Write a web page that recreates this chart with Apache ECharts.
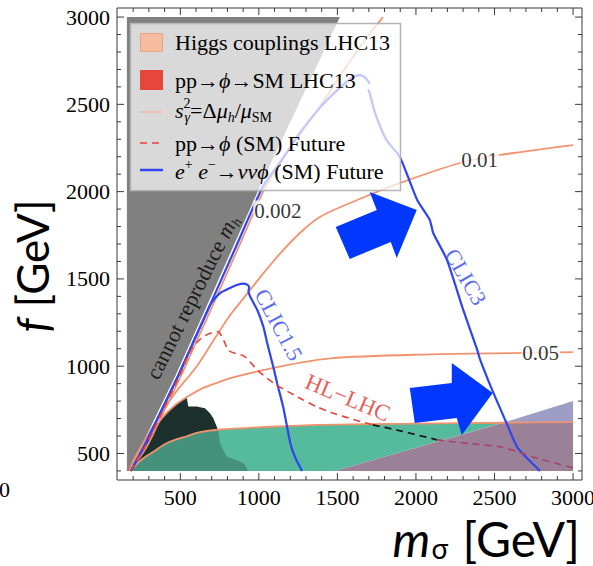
<!DOCTYPE html>
<html>
<head>
<meta charset="utf-8">
<title>f vs m_sigma</title>
<script src="https://cdn.jsdelivr.net/npm/echarts@6.0.0/dist/echarts.min.js"></script>
<style>
html, body { margin: 0; padding: 0; background: #fff; }
#chart { width: 593px; height: 566px; }
</style>
</head>
<body>
<div id="chart"></div>
<script>
// ---- tick values (GeV) ----
const majorTicks = [500, 1000, 1500, 2000, 2500, 3000];
const minorTicksX = [200, 300, 400, 600, 700, 800, 900, 1100, 1200, 1300, 1400, 1600, 1700, 1800, 1900,
                     2100, 2200, 2300, 2400, 2600, 2700, 2800, 2900];
const minorTicksY = [400, 600, 700, 800, 900, 1100, 1200, 1300, 1400, 1600, 1700, 1800, 1900,
                     2100, 2200, 2300, 2400, 2600, 2700, 2800, 2900];

// ---- shaded regions, points are [m_sigma, f] in GeV ----
const noHiggsMassRegion = [[160, 400], [160, 3000], [1516, 3000], [1026, 2067], [657, 1322], [466, 939], [231, 503], [175, 400]];
const couplingRegion = [[178, 400], [199, 418], [260, 470], [328, 510], [415, 560], [544, 600], [625, 622], [739, 636],
                        [1070, 653], [1388, 664], [2000, 671], [2552, 676], [1484, 400]];
const couplingCore = [[178, 400], [199, 418], [260, 470], [328, 510], [415, 560], [544, 600], [625, 622], [741, 631],
                      [752, 559], [794, 482], [857, 463], [910, 440], [931, 400]];
const resonanceRegion = [[178, 400], [199, 441], [262, 539], [370, 688], [460, 772], [540, 822], [551, 769], [604, 769],
                         [657, 759], [689, 731], [710, 702], [727, 664], [741, 631], [625, 622], [544, 600], [415, 560],
                         [328, 510], [260, 470], [199, 418]];
const wedgeLower = [[1484, 400], [2560, 678], [3000, 678], [3000, 400]];
const wedgeUpper = [[2560, 678], [3000, 801], [3000, 678]];

// ---- s_gamma^2 contours ----
const sGamma0002 = [[178, 400], [287, 540], [384, 720], [507, 950], [597, 1130], [692, 1320], [880, 1700], [1044, 2030],
                    [1150, 2180], [1250, 2330], [1388, 2487], [1530, 2680], [1675, 2869], [1790, 3000]];
const sGamma001 = [[178, 400], [199, 455], [270, 570], [351, 692], [470, 850], [605, 1000], [720, 1160], [815, 1290],
                   [879, 1363], [1000, 1500], [1130, 1640], [1261, 1763], [1388, 1855], [1626, 1952], [1900, 2050],
                   [2281, 2164], [2536, 2210], [3000, 2267]];
const sGamma005 = [[178, 400], [199, 441], [262, 539], [370, 688], [460, 772], [540, 822], [640, 873], [755, 912],
                   [818, 932], [1117, 995], [1454, 1045], [2090, 1068], [2682, 1076], [3000, 1081]];
const couplingEdge = [[178, 400], [199, 418], [260, 470], [328, 510], [415, 560], [544, 600], [625, 622], [739, 636],
                      [1070, 653], [1388, 664], [2000, 671], [2552, 676], [3000, 680]];

// ---- e+ e- -> nu nu phi reach ----
const clic15 = [[1275, 400], [1230, 480], [1200, 560], [1155, 766], [1117, 900], [1092, 995], [1053, 1133], [1029, 1225],
                [990, 1322], [946, 1396], [934, 1430], [938, 1452], [928, 1466], [900, 1473], [870, 1468], [820, 1450],
                [755, 1420], [700, 1365], [674, 1320], [579, 1130], [489, 950], [366, 720], [269, 540], [185, 400]];
const clic3Right = [[2790, 400], [2700, 480], [2644, 537], [2568, 692], [2485, 864], [2409, 1036], [2390, 1093],
                    [2301, 1322], [2198, 1608], [2110, 1763], [2088, 1838], [2008, 1952], [1897, 2200], [1812, 2296],
                    [1740, 2450], [1706, 2563], [1696, 2585]];
const clic3Left = [[1706, 2619], [1680, 2650], [1643, 2668], [1600, 2655], [1513, 2593], [1388, 2480], [1250, 2320],
                   [1140, 2175], [1026, 2030], [862, 1700], [674, 1320], [579, 1130], [489, 950], [366, 720],
                   [269, 540], [185, 400]];

// ---- pp -> phi (SM) reach, HL-LHC ----
const hlLhcOpen = [[182, 400], [278, 540], [375, 720], [498, 950], [540, 1040], [580, 1110], [640, 1165], [700, 1192],
                   [740, 1198], [775, 1150], [810, 1088], [910, 1055], [990, 978], [1092, 904], [1250, 822],
                   [1372, 766], [1474, 731], [1600, 695], [1725, 664]];
const hlLhcInBand = [[1725, 664], [1900, 630], [2133, 578]];
const hlLhcInWedge = [[2133, 578], [2350, 556], [2533, 538], [2650, 510], [2743, 480], [3000, 418]];

// ---- text annotations placed at [m_sigma, f] ----
const curveLabels = [
  { text: '0.002', at: [1121, 1889], rotate: 0, kind: 'num' },
  { text: '0.01', at: [2406, 2180], rotate: 0, kind: 'num' },
  { text: '0.05', at: [2794, 1075], rotate: 0, kind: 'num' },
  { text: 'CLIC1.5', at: [1127, 1237], rotate: -62, kind: 'clic' },
  { text: 'CLIC3', at: [2317, 1512], rotate: -60, kind: 'clic' },
  { text: 'HL\u2212LHC', at: [1566, 819], rotate: -22.6, kind: 'hl' },
  { text: '{r|cannot reproduce }{i|m}{sbi|h}', at: [574, 1397], rotate: 63.5, kind: 'mh' }
];
// tips of the two direction arrows, [m_sigma, f]
const arrowTips = [[2005, 1895], [2489, 847]];

const X_MIN = 97, X_MAX = 3057, Y_MIN = 348, Y_MAX = 3052;
const SERIF = '"Liberation Serif", "Times New Roman", "DejaVu Serif", serif';
const SANS = 'Lato, "Open Sans", "DejaVu Sans", sans-serif';

const COLORS = {
  gray: '#808080', teal: '#56ba9c', tealDark: '#44927b', deep: '#1c312d',
  mauve: '#9b8198', lavender: '#9e9dc6',
  salmon: '#f1936f', blue: '#2f45ef', red: '#e8413c', arrow: '#0038ff', frame: '#3a3a3a'
};

// rich-text styles: r upright, i italic, sb/sbi subscript, sp superscript, sp0 zero-advance superscript
function richSet(size, family, color) {
  const small = Math.round(size * 0.64);
  const base = { fontFamily: family, fontSize: size, lineHeight: size + 4, verticalAlign: 'middle' };
  const shift = Math.round(size * 0.64);
  const s = {
    r: Object.assign({}, base),
    i: Object.assign({}, base, { fontStyle: 'italic' }),
    sb: { fontFamily: family, fontSize: small, lineHeight: small, verticalAlign: 'middle', padding: [shift, 0, 0, 0] },
    sbi: { fontFamily: family, fontSize: small, lineHeight: small, verticalAlign: 'middle', padding: [shift, 0, 0, 0], fontStyle: 'italic' },
    sp: { fontFamily: family, fontSize: small, lineHeight: small, verticalAlign: 'middle', padding: [0, 0, shift, 0] },
    sp0: { fontFamily: family, fontSize: small, lineHeight: small, verticalAlign: 'middle', padding: [0, 0, shift, 0], width: 1 }
  };
  if (color) Object.keys(s).forEach(k => { s[k].color = color; s[k].fill = color; });
  return s;
}

function region(name, pts, color, z) {
  return {
    type: 'custom', name: name, z: z, silent: true, animation: false,
    data: pts, encode: { x: 0, y: 1 },
    renderItem: function (params, api) {
      if (params.dataIndex !== 0) return null;
      return { type: 'polygon', shape: { points: pts.map(p => api.coord(p)) }, style: { fill: color } };
    }
  };
}

function curve(name, pts, color, width, type, z, smooth) {
  return {
    type: 'line', name: name, data: pts, symbol: 'none', showSymbol: false, silent: true,
    animation: false, z: z, smooth: smooth == null ? 0.3 : smooth,
    lineStyle: { color: color, width: width, type: type || 'solid' }
  };
}

function labelSeries() {
  const styleOf = {
    num: { fontFamily: SERIF, fontSize: 21, color: '#000', backgroundColor: '#fff', padding: [0, 1] },
    clic: { fontFamily: SERIF, fontSize: 22, color: COLORS.blue },
    hl: { fontFamily: SERIF, fontSize: 23, color: '#e2322c' },
    mh: { fontFamily: SERIF, fontSize: 22, color: '#000', rich: richSet(22, SERIF, '#000') }
  };
  return {
    type: 'scatter', silent: true, animation: false, z: 6,
    symbolSize: 1, itemStyle: { color: 'rgba(0,0,0,0)' },
    data: curveLabels.map(l => ({
      value: l.at,
      label: Object.assign({ show: true, position: 'inside', formatter: l.text, rotate: l.rotate }, styleOf[l.kind])
    }))
  };
}

// frame ticks on all four sides, placed through the axis scales
const tickRows = []
  .concat(majorTicks.map(v => [v, Y_MIN, 7, 0]), minorTicksX.map(v => [v, Y_MIN, 4, 0]))
  .concat(majorTicks.map(v => [v, Y_MAX, 7, 1]), minorTicksX.map(v => [v, Y_MAX, 4, 1]))
  .concat(majorTicks.map(v => [X_MIN, v, 7, 2]), minorTicksY.map(v => [X_MIN, v, 4, 2]))
  .concat(majorTicks.map(v => [X_MAX, v, 7, 3]), minorTicksY.map(v => [X_MAX, v, 4, 3]));

const tickSeries = {
  type: 'custom', silent: true, animation: false, z: 8, clip: false,
  data: tickRows, encode: { x: 0, y: 1 },
  renderItem: function (params, api) {
    const p = api.coord([api.value(0), api.value(1)]);
    const len = api.value(2), side = api.value(3);
    const d = [[0, -len], [0, len], [len, 0], [-len, 0]][side];
    return { type: 'line', shape: { x1: p[0], y1: p[1], x2: p[0] + d[0], y2: p[1] + d[1] },
             style: { stroke: COLORS.frame, lineWidth: 1 } };
  }
};

const chart = echarts.init(document.getElementById('chart'), null, { renderer: 'svg' });

chart.setOption({
  animation: false,
  backgroundColor: '#fff',
  grid: { left: 117, top: 8, width: 465, height: 472, containLabel: false, outerBoundsMode: 'none',
          show: true, borderColor: COLORS.frame, borderWidth: 1, backgroundColor: 'transparent' },
  xAxis: {
    type: 'value', min: X_MIN, max: X_MAX,
    axisLine: { show: false, onZero: false }, axisTick: { show: false }, splitLine: { show: false },
    axisLabel: { customValues: majorTicks, formatter: v => String(v), fontFamily: SERIF, fontSize: 22, color: '#000', margin: 6 }
  },
  yAxis: {
    type: 'value', min: Y_MIN, max: Y_MAX,
    axisLine: { show: false, onZero: false }, axisTick: { show: false }, splitLine: { show: false },
    axisLabel: { customValues: majorTicks, formatter: v => String(v), fontFamily: SERIF, fontSize: 22, color: '#000', margin: 7 }
  },
  series: [
    region('cannot reproduce m_h', noHiggsMassRegion, COLORS.gray, 1),
    region('Higgs couplings', couplingRegion, COLORS.teal, 1),
    region('Higgs couplings core', couplingCore, COLORS.tealDark, 1),
    region('pp→ϕ→SM LHC13', resonanceRegion, COLORS.deep, 1),
    region('wedge lower', wedgeLower, COLORS.mauve, 1),
    region('wedge upper', wedgeUpper, COLORS.lavender, 1),

    curve('s2 = 0.002', sGamma0002, COLORS.salmon, 1.8, 'solid', 3),
    curve('s2 = 0.01', sGamma001, COLORS.salmon, 1.8, 'solid', 3),
    curve('s2 = 0.05', sGamma005, COLORS.salmon, 1.8, 'solid', 3),
    curve('coupling edge', couplingEdge, COLORS.salmon, 1.8, 'solid', 3),

    curve('CLIC1.5', clic15, COLORS.blue, 2.2, 'solid', 4, 0.2),
    curve('CLIC3', clic3Right, COLORS.blue, 2.2, 'solid', 4, 0.2),
    curve('CLIC3 upper', clic3Left, COLORS.blue, 2.2, 'solid', 4, 0.2),

    curve('HL-LHC', hlLhcOpen, COLORS.red, 1.6, [7, 5], 5, 0.25),
    curve('HL-LHC band', hlLhcInBand, '#1a1a1a', 1.8, [7, 5], 5, 0.25),
    curve('HL-LHC wedge', hlLhcInWedge, '#a8426c', 1.6, [7, 5], 5, 0.25),

    labelSeries(),
    tickSeries
  ]
});

// ---- overlay: arrows, legend, axis titles ----
const toPx = p => chart.convertToPixel({ xAxisIndex: 0, yAxisIndex: 0 }, p);

// arrow outlines relative to their tips (pixels)
const arrowShapes = [
  [[-81, 17], [-40, 0], [-47, -18], [0, 0], [-20, 48], [-26, 32], [-67, 49]],
  [[-83, -5], [-41, -10], [-41, -30], [0, 0], [-31, 42], [-36, 25], [-78, 30]]
];
const arrows = arrowTips.map((tip, k) => {
  const t = toPx(tip);
  return {
    type: 'polygon', z: 50, silent: true,
    shape: { points: arrowShapes[k].map(d => [t[0] + d[0], t[1] + d[1]]) },
    style: { fill: COLORS.arrow }
  };
});

const legendRich = richSet(22, SERIF, '#000');
const legendX = 175;
const legendRows = [
  { y: 42, text: '{r|Higgs couplings LHC13}' },
  { y: 80, text: '{r|pp→}{i|ϕ}{r|→SM LHC13}' },
  { y: 110, text: '{i|s}{sp0|2}{sbi|γ}{r|=Δ}{i|μ}{sbi|h}{r|/}{i|μ}{sb|SM}' },
  { y: 143, text: '{r|pp→}{i|ϕ}{r| (SM) Future}' },
  { y: 171, text: '{i|e}{sp|+}{r| }{i|e}{sp|−}{r|→}{i|ννϕ}{r| (SM) Future}' }
];

const legend = [
  { type: 'rect', z: 100, silent: true, shape: { x: 130.5, y: 23.5, width: 270, height: 167 },
    style: { fill: 'rgba(255,255,255,0.7)', stroke: '#b4b4b4', lineWidth: 1.5 } },
  { type: 'rect', z: 101, silent: true, shape: { x: 140.5, y: 33.5, width: 22, height: 18 },
    style: { fill: '#f5bc9f', stroke: '#eba385', lineWidth: 1 } },
  { type: 'rect', z: 101, silent: true, shape: { x: 140, y: 70, width: 23, height: 20 },
    style: { fill: '#e6463c' } },
  { type: 'line', z: 101, silent: true, shape: { x1: 140, y1: 112, x2: 163, y2: 112 },
    style: { stroke: '#f3b9a2', lineWidth: 1.5 } },
  { type: 'line', z: 101, silent: true, shape: { x1: 140, y1: 143, x2: 163, y2: 143 },
    style: { stroke: COLORS.red, lineWidth: 1.6, lineDash: [7, 5] } },
  { type: 'line', z: 101, silent: true, shape: { x1: 140, y1: 170, x2: 163, y2: 170 },
    style: { stroke: COLORS.blue, lineWidth: 2.5 } }
].concat(legendRows.map(r => ({
  type: 'text', z: 102, silent: true, x: legendX, y: r.y,
  style: { text: r.text, rich: legendRich, fill: '#000', align: 'left', verticalAlign: 'middle',
           fontFamily: SERIF, fontSize: 22 }
})));

const titles = [
  { type: 'text', z: 102, silent: true, x: 580, y: 538,
    style: { text: '{i|m}{sb|σ}{r| [GeV]}', fill: '#000', align: 'right', verticalAlign: 'middle',
             rich: {
               r: { fontFamily: SANS, fontSize: 48, lineHeight: 44, verticalAlign: 'middle', fill: '#000' },
               i: { fontFamily: SANS, fontSize: 48, lineHeight: 44, verticalAlign: 'middle', fontStyle: 'italic', fill: '#000' },
               sb: { fontFamily: SANS, fontSize: 28, lineHeight: 20, verticalAlign: 'middle', padding: [20, 2, 0, 1], fill: '#000' }
             } } },
  { type: 'text', z: 102, silent: true, x: 32, y: 266, rotation: Math.PI / 2,
    style: { text: '{i|f}{r| [GeV]}', fill: '#000', align: 'center', verticalAlign: 'middle',
             rich: {
               r: { fontFamily: SANS, fontSize: 44, lineHeight: 50, fill: '#000' },
               i: { fontFamily: SANS, fontSize: 44, lineHeight: 50, fontStyle: 'italic', fill: '#000' }
             } } },
  { type: 'text', z: 102, silent: true, x: 10, y: 489,
    style: { text: '0', fill: '#000', align: 'right', verticalAlign: 'middle', fontFamily: SERIF, fontSize: 22 } }
];

chart.setOption({ graphic: arrows.concat(legend, titles) });
</script>
</body>
</html>
